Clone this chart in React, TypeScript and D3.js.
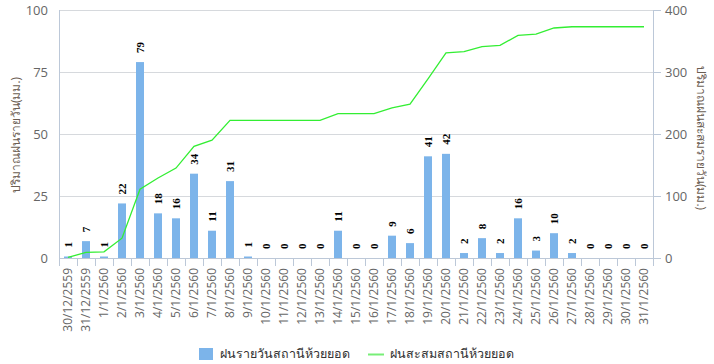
import { useEffect, useRef } from 'react';
import * as d3 from 'd3';

const dates = [
  '30/12/2559', '31/12/2559', '1/1/2560', '2/1/2560', '3/1/2560', '4/1/2560', '5/1/2560',
  '6/1/2560', '7/1/2560', '8/1/2560', '9/1/2560', '10/1/2560', '11/1/2560', '12/1/2560',
  '13/1/2560', '14/1/2560', '15/1/2560', '16/1/2560', '17/1/2560', '18/1/2560', '19/1/2560',
  '20/1/2560', '21/1/2560', '22/1/2560', '23/1/2560', '24/1/2560', '25/1/2560', '26/1/2560',
  '27/1/2560', '28/1/2560', '29/1/2560', '30/1/2560', '31/1/2560',
];

// daily rainfall (mm)
const dailyRain = [
  0.6, 6.8, 0.6, 22, 79, 18, 16, 34, 11, 31, 0.6, 0, 0, 0, 0, 11, 0, 0, 9, 6, 41, 42,
  2, 8, 2, 16, 3, 10, 2, 0, 0, 0, 0,
];

// cumulative rainfall (mm)
const cumRain = [
  1, 9, 10, 32, 111, 129, 145, 180, 190, 222, 222, 222, 222, 222, 222, 233, 233, 233,
  242, 248, 289, 331, 333, 341, 343, 359, 361, 371, 373, 373, 373, 373, 373,
];

const leftTicks = [0, 25, 50, 75, 100];
const rightTicks = [0, 100, 200, 300, 400];

const barName = 'ฝนรายวันสถานีห้วยยอด';
const lineName = 'ฝนสะสมสถานีห้วยยอด';
const leftTitle = 'ปริมาณฝนรายวัน(มม.)';
const rightTitle = 'ปริมาณฝนสะสมรายวัน(มม.)';

export default function App() {
  const svgRef = useRef<SVGSVGElement>(null);

  useEffect(() => {
    if (!svgRef.current) return;
    const W = 714, H = 364;
    const margin = { top: 10, right: 61, bottom: 106, left: 59 };
    const width = W - margin.left - margin.right;
    const height = H - margin.top - margin.bottom;
    const font = '"Open Sans", "Noto Sans", sans-serif';
    const gridColor = '#d6d9dd';
    const axisColor = '#bcc8d8';
    const textColor = '#666';

    d3.select(svgRef.current).selectAll('*').remove();
    const root = d3.select(svgRef.current)
      .attr('width', W)
      .attr('height', H)
      .style('font-family', font);

    const svg = root.append('g')
      .attr('transform', `translate(${margin.left},${margin.top})`);

    const x = d3.scaleBand().domain(dates).range([0, width]);
    const yL = d3.scaleLinear().domain([0, 100]).range([height, 0]);
    const yR = d3.scaleLinear().domain([0, 400]).range([height, 0]);

    // grid
    svg.append('g')
      .selectAll('line')
      .data(leftTicks)
      .join('line')
      .attr('x1', 0)
      .attr('x2', width)
      .attr('y1', d => yL(d) + 0.5)
      .attr('y2', d => yL(d) + 0.5)
      .attr('stroke', gridColor);

    // left axis
    svg.append('line')
      .attr('x1', 0.5).attr('x2', 0.5).attr('y1', 0).attr('y2', height)
      .attr('stroke', axisColor);
    svg.append('g')
      .selectAll('text')
      .data(leftTicks)
      .join('text')
      .attr('x', -11)
      .attr('y', d => yL(d))
      .attr('dy', '0.35em')
      .attr('text-anchor', 'end')
      .attr('font-size', 13)
      .attr('fill', textColor)
      .text(d => d);

    // right axis
    svg.append('line')
      .attr('x1', width + 0.5).attr('x2', width + 0.5).attr('y1', 0).attr('y2', height)
      .attr('stroke', axisColor);
    svg.append('g')
      .selectAll('line')
      .data(rightTicks)
      .join('line')
      .attr('x1', width).attr('x2', width + 8)
      .attr('y1', d => yR(d) + 0.5).attr('y2', d => yR(d) + 0.5)
      .attr('stroke', axisColor);
    svg.append('g')
      .selectAll('text')
      .data(rightTicks)
      .join('text')
      .attr('x', width + 12)
      .attr('y', d => yR(d))
      .attr('dy', '0.35em')
      .attr('font-size', 13)
      .attr('fill', textColor)
      .text(d => d);

    // x axis
    svg.append('line')
      .attr('x1', 0).attr('x2', width).attr('y1', height + 0.5).attr('y2', height + 0.5)
      .attr('stroke', axisColor);
    svg.append('g')
      .selectAll('line')
      .data(dates.concat(['end']))
      .join('line')
      .attr('x1', (d, i) => Math.round(i * x.step()) + 0.5)
      .attr('x2', (d, i) => Math.round(i * x.step()) + 0.5)
      .attr('y1', height)
      .attr('y2', height + 8)
      .attr('stroke', axisColor);
    svg.append('g')
      .selectAll('text')
      .data(dates)
      .join('text')
      .attr('transform', d => `translate(${(x(d) as number) + x.bandwidth() / 2},${height + 10}) rotate(-90)`)
      .attr('dy', '0.35em')
      .attr('text-anchor', 'end')
      .attr('font-size', 12)
      .attr('fill', textColor)
      .text(d => d);

    // bars
    const barW = 8;
    svg.append('g')
      .selectAll('rect')
      .data(dailyRain)
      .join('rect')
      .attr('x', (d, i) => (x(dates[i]) as number) + x.bandwidth() / 2 - barW / 2)
      .attr('y', d => yL(d))
      .attr('width', barW)
      .attr('height', d => height - yL(d))
      .attr('fill', '#7cb4ea');

    // cumulative line
    const line = d3.line<number>()
      .x((d, i) => (x(dates[i]) as number) + x.bandwidth() / 2)
      .y(d => yR(d));
    svg.append('path')
      .datum(cumRain)
      .attr('fill', 'none')
      .attr('stroke', '#33ee33')
      .attr('stroke-width', 1.3)
      .attr('d', line);

    // data labels
    svg.append('g')
      .selectAll('text')
      .data(dailyRain)
      .join('text')
      .attr('transform', (d, i) => `translate(${(x(dates[i]) as number) + x.bandwidth() / 2},${yL(d) - 9}) rotate(-90)`)
      .attr('dy', '0.35em')
      .attr('text-anchor', 'start')
      .attr('font-size', 11)
      .attr('font-weight', 'bold')
      .style('font-family', '"Liberation Serif", "DejaVu Serif", serif')
      .attr('fill', '#000')
      .text(d => Math.round(d));

    // axis titles
    root.append('text')
      .attr('transform', `translate(16,135) rotate(-90)`)
      .attr('text-anchor', 'middle')
      .attr('dy', '0.35em')
      .attr('font-size', 12)
      .attr('fill', '#6b5d52')
      .text(leftTitle);
    root.append('text')
      .attr('transform', `translate(701,138) rotate(90)`)
      .attr('text-anchor', 'middle')
      .attr('dy', '0.35em')
      .attr('font-size', 12)
      .attr('fill', '#6b5d52')
      .text(rightTitle);

    // legend
    const lg = root.append('g').attr('font-size', 12.5).attr('fill', '#333');
    lg.append('rect')
      .attr('x', 199).attr('y', 348).attr('width', 14).attr('height', 12)
      .attr('fill', '#7cb4ea');
    lg.append('text')
      .attr('x', 220).attr('y', 354).attr('dy', '0.35em')
      .text(barName);
    lg.append('line')
      .attr('x1', 368).attr('x2', 384).attr('y1', 354.5).attr('y2', 354.5)
      .attr('stroke', '#77ee77').attr('stroke-width', 2);
    lg.append('text')
      .attr('x', 390).attr('y', 354).attr('dy', '0.35em')
      .text(lineName);
  }, []);

  return <svg ref={svgRef} style={{ position: 'absolute', left: 0, top: 0 }} />;
}
